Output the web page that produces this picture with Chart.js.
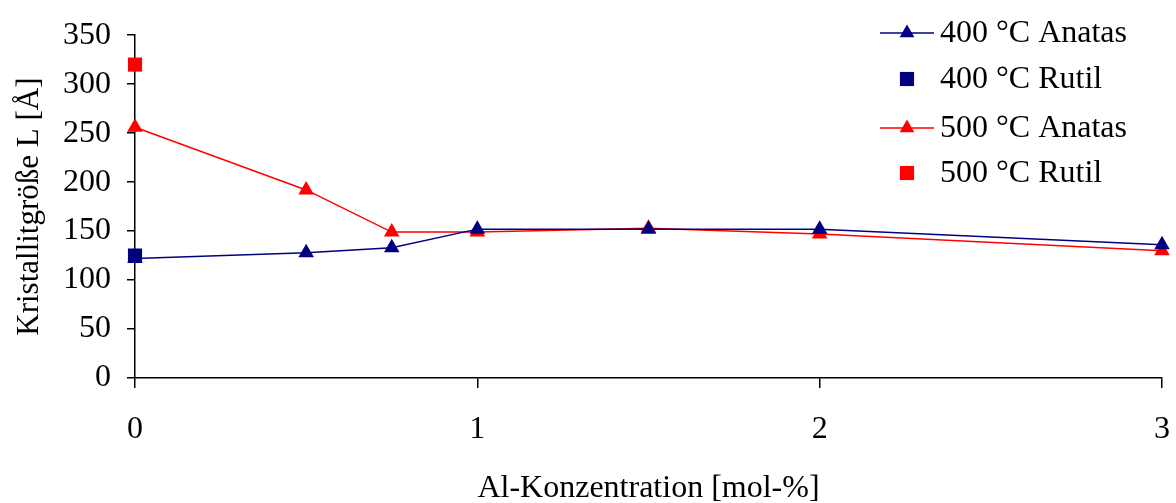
<!DOCTYPE html>
<html>
<head>
<meta charset="utf-8">
<script src="https://cdn.jsdelivr.net/npm/chart.js@4"></script>
<style>
  html, body { margin: 0; padding: 0; background: #fff; }
  #wrap { width: 1176px; height: 503px; }
</style>
</head>
<body>
<div id="wrap"><canvas id="chart"></canvas></div>
<script>
// Data (Al-Konzentration in mol-%, Kristallitgröße in Å)
const xAnatas = [0, 0.5, 0.75, 1, 1.5, 2, 3];
const anatas400 = [122, 128, 133, 152, 152, 152, 136];
const anatas500 = [256, 192, 149, 149, 153, 147, 130];
const xRutil = [0];
const rutil400 = [125];
const rutil500 = [320];
const xTicks = [0, 1, 2, 3];

const NAVY = "#000080";
const RED = "#ff0000";
const FONT = "'Liberation Serif', 'Times New Roman', serif";
const FS = 32;

function toPoints(xs, ys) {
    return xs.map((x, i) => ({ x: x, y: ys[i] }));
}

// Legend drawn by hand so the plot runs underneath it
const legendPlugin = {
    id: "customLegend",
    afterDraw(chart) {
        const ctx = chart.ctx;
        const rows = [33, 79, 128, 173];
        ctx.save();
        chart.data.datasets.forEach((ds, i) => {
            const y = rows[i];
            if (ds.showLine) {
                ctx.strokeStyle = ds.borderColor;
                ctx.lineWidth = 1.5;
                ctx.beginPath();
                ctx.moveTo(880, y);
                ctx.lineTo(934, y);
                ctx.stroke();
            }
            ctx.fillStyle = ds.pointBackgroundColor;
            Chart.helpers.drawPoint(ctx, {
                pointStyle: ds.pointStyle,
                radius: ds.pointStyle === "rect" ? 10 : 8.5,
                borderWidth: 0
            }, 907, y);
            ctx.fillStyle = "#000";
            ctx.font = FS + "px " + FONT;
            ctx.textBaseline = "middle";
            ctx.textAlign = "left";
            ctx.fillText(ds.label, 940, y + 1);
        });
        ctx.restore();
    }
};

new Chart(document.getElementById("chart"), {
    type: "scatter",
    data: {
        datasets: [
            {
                label: "400 °C Anatas",
                data: toPoints(xAnatas, anatas400),
                showLine: true,
                borderColor: NAVY,
                borderWidth: 1.5,
                pointStyle: "triangle",
                pointRadius: 9,
                pointBackgroundColor: NAVY,
                pointBorderColor: NAVY,
                pointBorderWidth: 0,
                clip: false
            },
            {
                label: "400 °C Rutil",
                data: toPoints(xRutil, rutil400),
                showLine: false,
                borderColor: NAVY,
                pointStyle: "rect",
                pointRadius: 10,
                pointBackgroundColor: NAVY,
                pointBorderColor: NAVY,
                pointBorderWidth: 0,
                clip: false
            },
            {
                label: "500 °C Anatas",
                data: toPoints(xAnatas, anatas500),
                showLine: true,
                borderColor: RED,
                borderWidth: 1.5,
                pointStyle: "triangle",
                pointRadius: 9,
                pointBackgroundColor: RED,
                pointBorderColor: RED,
                pointBorderWidth: 0,
                clip: false
            },
            {
                label: "500 °C Rutil",
                data: toPoints(xRutil, rutil500),
                showLine: false,
                borderColor: RED,
                pointStyle: "rect",
                pointRadius: 10,
                pointBackgroundColor: RED,
                pointBorderColor: RED,
                pointBorderWidth: 0,
                clip: false
            }
        ]
    },
    options: {
        responsive: true,
        maintainAspectRatio: false,
        animation: false,
        layout: { padding: { top: 24, right: 14, left: 0, bottom: 0 } },
        plugins: {
            legend: { display: false },
            tooltip: { enabled: false }
        },
        scales: {
            x: {
                type: "linear",
                min: 0,
                max: 3,
                afterBuildTicks: (scale) => {
                    scale.ticks = xTicks.map((v) => ({ value: v }));
                },
                afterFit: (scale) => {
                    scale.height = 125;
                    scale.paddingLeft = 0;
                    scale.paddingRight = 0;
                },
                grid: { drawOnChartArea: false, drawTicks: true, tickLength: 10, color: "#000", lineWidth: 1.5 },
                border: { color: "#000", width: 1.5 },
                ticks: { color: "#000", font: { family: FONT, size: FS }, padding: 22, maxRotation: 0 },
                title: {
                    display: true,
                    text: "Al-Konzentration [mol-%]",
                    color: "#000",
                    font: { family: FONT, size: FS },
                    padding: { top: 0, bottom: -5 }
                }
            },
            y: {
                min: 0,
                max: 350,
                afterFit: (scale) => { scale.width = 135; },
                grid: { drawOnChartArea: false, drawTicks: true, tickLength: 8, color: "#000", lineWidth: 1.5 },
                border: { color: "#000", width: 1.5 },
                ticks: { stepSize: 50, color: "#000", font: { family: FONT, size: FS }, padding: 16 },
                title: {
                    display: true,
                    text: "Kristallitgröße L [Å]",
                    color: "#000",
                    font: { family: FONT, size: 31 },
                    padding: { top: 11, bottom: 0 }
                }
            }
        }
    },
    plugins: [legendPlugin]
});
</script>
</body>
</html>
